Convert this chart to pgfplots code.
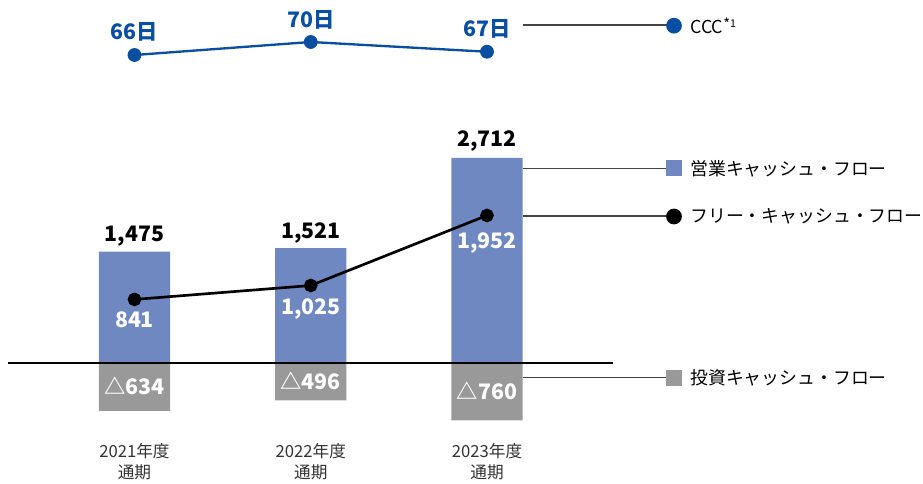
\documentclass[border=0pt]{standalone}
\usepackage{pgfplots}
\pgfplotsset{compat=1.18}
\usepackage{pgfplotstable}
\usepackage{fontspec}
\setmainfont{Noto Sans CJK JP}

\definecolor{opblue}{HTML}{7088C2}
\definecolor{invgray}{HTML}{999999}
\definecolor{cccblue}{HTML}{0A4EA2}
\definecolor{leader}{HTML}{444444}
\definecolor{cattext}{HTML}{333333}

\pgfplotstableread{
x op inv fcf ccc
0 1475 -634 841 66
1 1521 -496 1025 70
2 2712 -760 1952 67
}\cfdata

\pgfplotsset{base/.style={scale only axis, width=692.25pt, height=363pt,
  xmin=-0.7631, xmax=4.4738, hide axis, clip=false}}

\newcommand{\numfont}{\bfseries\fontsize{16}{16}\selectfont}
\newcommand{\legfont}{\fontsize{13.4}{13.4}\selectfont}
\newcommand{\catfont}{\fontsize{12.5}{12.5}\selectfont}

\begin{document}
\begin{tikzpicture}
% ---------- main cash-flow axis ----------
\begin{axis}[base, ymin=-1600.7, ymax=4802.2]
\coordinate (bbsw) at (rel axis cs:0,0);
\coordinate (bbne) at (rel axis cs:1,1);
\addplot[ybar, bar width=0.403, bar shift=0pt, fill=opblue, draw=none] table[x=x,y=op]{\cfdata};
\addplot[ybar, bar width=0.403, bar shift=0pt, fill=invgray, draw=none] table[x=x,y=inv]{\cfdata};
\draw[black, line width=1.5pt] (axis cs:-0.7177,0) -- (axis cs:2.7149,0);
\addplot[black, line width=2pt, mark=*, mark size=4.1pt, mark options={fill=black}] table[x=x,y=fcf]{\cfdata};

% totals above bars
\node[font=\numfont, anchor=base, inner sep=0pt, yshift=7.5pt] at (axis cs:0,1475) {1,475};
\node[font=\numfont, anchor=base, inner sep=0pt, yshift=7.5pt] at (axis cs:1,1521) {1,521};
\node[font=\numfont, anchor=base, inner sep=0pt, yshift=8.5pt] at (axis cs:2,2712) {2,712};
% FCF values
\node[font=\numfont, text=white, anchor=base, inner sep=0pt, yshift=-21pt] at (axis cs:0,841) {841};
\node[font=\numfont, text=white, anchor=base, inner sep=0pt, yshift=-22pt] at (axis cs:1,1025) {1,025};
\node[font=\numfont, text=white, anchor=base, inner sep=0pt, yshift=-25pt] at (axis cs:2,1952) {1,952};
% investing values
\node[font=\numfont, text=white, anchor=base, inner sep=0pt, yshift=-5.5pt] at (axis cs:0,-317) {△634};
\node[font=\numfont, text=white, anchor=base, inner sep=0pt, yshift=-5.5pt] at (axis cs:1,-248) {△496};
\node[font=\numfont, text=white, anchor=base, inner sep=0pt, yshift=-5.5pt] at (axis cs:2,-380) {△760};

% category labels
\node[font=\catfont, text=cattext, anchor=base, inner sep=0pt] at (axis cs:0,-1250) {2021年度};
\node[font=\catfont, text=cattext, anchor=base, inner sep=0pt] at (axis cs:0,-1530) {通期};
\node[font=\catfont, text=cattext, anchor=base, inner sep=0pt] at (axis cs:1,-1250) {2022年度};
\node[font=\catfont, text=cattext, anchor=base, inner sep=0pt] at (axis cs:1,-1530) {通期};
\node[font=\catfont, text=cattext, anchor=base, inner sep=0pt] at (axis cs:2,-1250) {2023年度};
\node[font=\catfont, text=cattext, anchor=base, inner sep=0pt] at (axis cs:2,-1530) {通期};

% legend leaders and keys
\draw[leader, line width=0.9pt] (rel axis cs:0.56631,0.65227) -- (rel axis cs:0.72156,0.65227);
\fill[opblue] (rel axis cs:0.72156,0.66839) rectangle (rel axis cs:0.73890,0.63574);
\node[font=\legfont, anchor=west, inner sep=0pt] at (rel axis cs:0.74756,0.65186) {営業キャッシュ・フロー};

\draw[leader, line width=0.9pt] (rel axis cs:0.56631,0.55372) -- (rel axis cs:0.72373,0.55372);
\fill[black] (rel axis cs:0.73023,0.55269) circle[radius=5.9pt];
\node[font=\legfont, anchor=west, inner sep=0pt] at (rel axis cs:0.74756,0.55269) {フリー・キャッシュ・フロー};

\draw[leader, line width=0.9pt] (rel axis cs:0.56631,0.21963) -- (rel axis cs:0.72156,0.21963);
\fill[invgray] (rel axis cs:0.72156,0.23554) rectangle (rel axis cs:0.73890,0.20310);
\node[font=\legfont, anchor=west, inner sep=0pt] at (rel axis cs:0.74756,0.21901) {投資キャッシュ・フロー};

\draw[leader, line width=0.9pt] (rel axis cs:0.56631,0.94835) -- (rel axis cs:0.72373,0.94835);
\fill[cccblue] (rel axis cs:0.73023,0.94690) circle[radius=5.9pt];
\node[font=\legfont, anchor=base west, inner sep=0pt] at (rel axis cs:0.74756,0.93120) {CCC\raisebox{2.5pt}{\fontsize{11}{11}\selectfont *}\raisebox{4.5pt}{\fontsize{8}{8}\selectfont 1}};
\end{axis}

% ---------- CCC axis ----------
\begin{axis}[base, ymin=-66, ymax=82.923]
\addplot[cccblue, line width=1.75pt, mark=*, mark size=4.3pt, mark options={fill=cccblue}] table[x=x,y=ccc]{\cfdata};
\node[font=\numfont, text=cccblue, anchor=base, inner sep=0pt, yshift=11.6pt] at (axis cs:0,66) {66日};
\node[font=\numfont, text=cccblue, anchor=base, inner sep=0pt, yshift=11pt] at (axis cs:1,70) {70日};
\node[font=\numfont, text=cccblue, anchor=base, inner sep=0pt, yshift=11.6pt] at (axis cs:2,67) {67日};
\end{axis}
\pgfresetboundingbox
\useasboundingbox (bbsw) rectangle (bbne);
\end{tikzpicture}
\end{document}
